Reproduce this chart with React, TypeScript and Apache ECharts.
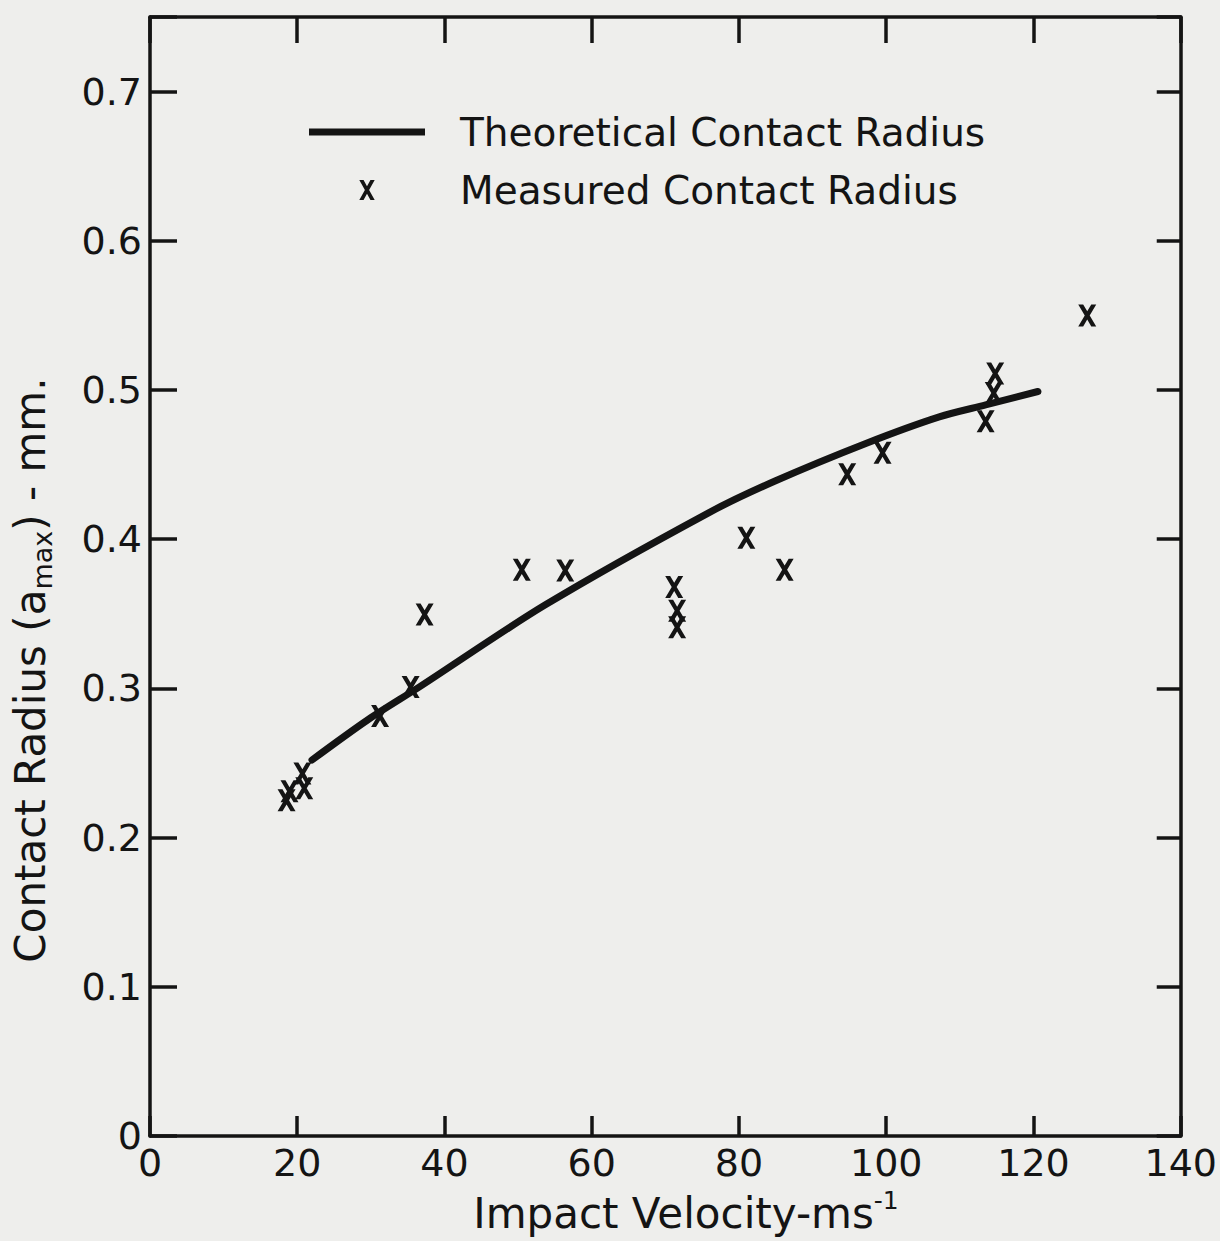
import React, { useEffect, useRef } from "react";
import * as echarts from "echarts";

// Theoretical curve
const theoryX = [22.0, 29.6, 36.6, 53.7, 76.0, 84.9, 97.4, 107.2, 113.5, 120.6];
const theoryY = [0.252, 0.279, 0.301, 0.356, 0.418, 0.439, 0.4645, 0.482, 0.49, 0.499];

// Measured points
const measX = [18.55, 18.95, 20.7, 20.95, 31.25, 35.4, 37.3, 50.5, 56.4, 71.2, 71.6, 71.6, 81.0, 86.2, 94.7, 99.5, 113.5, 114.6, 114.8, 127.3];
const measY = [0.225, 0.231, 0.243, 0.233, 0.2815, 0.301, 0.3495, 0.3795, 0.379, 0.368, 0.352, 0.341, 0.401, 0.3795, 0.4436, 0.458, 0.479, 0.498, 0.511, 0.55];

const seriesNames = ["Theoretical Contact Radius", "Measured Contact Radius"];
const xTitle = "Impact Velocity-ms";
const xTitleSup = "-1";
const yTitleA = "Contact Radius (a";
const yTitleSub = "max";
const yTitleB = ") - mm.";

const INK = "#141414";
const BG = "#eeeeec";
const FONT = "DejaVu Sans";
const X_PATH =
  "path://M0,0L5.5,0L10,8.07L14.5,0L20,0L12.75,13L20,26L14.5,26L10,17.93L5.5,26L0,26L7.25,13Z";
const LINE_ICON = "path://M0,0L116,0L116,7L0,7Z";

export default function App() {
  const ref = useRef<HTMLDivElement>(null);
  useEffect(() => {
    if (!ref.current) return;
    const chart = echarts.init(ref.current, undefined, { renderer: "svg" });
    const axisLine = { show: true, onZero: false, lineStyle: { color: INK, width: 3.5 } };
    const tickStyle = { color: INK, width: 3.5 };
    const yFmt = (v: number) => (v > 0.72 ? "" : v === 0 ? "0" : v.toFixed(1));
    chart.setOption({
      animation: false,
      backgroundColor: BG,
      grid: { left: 150, right: 26, top: 17, bottom: 105, containLabel: false },
      legend: {
        left: 304,
        top: 106,
        orient: "vertical",
        itemWidth: 116,
        itemHeight: 20,
        itemGap: 16,
        selectedMode: false,
        symbolKeepAspect: true,
        textStyle: { fontFamily: FONT, fontSize: 39, color: INK, lineHeight: 42, padding: [0, 0, 0, 30] },
        data: [
          { name: seriesNames[0], icon: LINE_ICON, itemStyle: { color: INK, opacity: 1 } },
          { name: seriesNames[1], icon: X_PATH, itemStyle: { color: INK, opacity: 1 } },
        ],
      },
      xAxis: [
        {
          type: "value",
          min: 0,
          max: 140,
          interval: 20,
          position: "bottom",
          axisLine,
          axisTick: { show: true, inside: true, length: 20, lineStyle: tickStyle },
          axisLabel: { color: INK, fontSize: 38, fontFamily: FONT, margin: 8 },
          splitLine: { show: false },
        },
        {
          type: "value",
          min: 0,
          max: 140,
          interval: 20,
          position: "top",
          axisLine,
          axisTick: { show: true, inside: true, length: 26, lineStyle: tickStyle },
          axisLabel: { show: false },
          splitLine: { show: false },
        },
      ],
      yAxis: [
        {
          type: "value",
          min: 0,
          max: 0.75,
          interval: 0.1,
          position: "left",
          axisLine,
          axisTick: { show: true, inside: true, length: 27, lineStyle: tickStyle },
          axisLabel: { color: INK, fontSize: 38, fontFamily: FONT, margin: 8, formatter: yFmt },
          splitLine: { show: false },
        },
        {
          type: "value",
          min: 0,
          max: 0.75,
          interval: 0.1,
          position: "right",
          axisLine,
          axisTick: { show: true, inside: true, length: 24, lineStyle: tickStyle },
          axisLabel: { show: false },
          splitLine: { show: false },
        },
      ],
      series: [
        {
          type: "line",
          name: seriesNames[0],
          data: theoryX.map((x, i) => [x, theoryY[i]]),
          smooth: 0.3,
          symbol: "none",
          showSymbol: false,
          lineStyle: { color: INK, width: 7, cap: "round" },
          itemStyle: { color: INK },
          z: 3,
        },
        {
          type: "scatter",
          name: seriesNames[1],
          data: measX.map((x, i) => [x, measY[i]]),
          symbol: X_PATH,
          symbolSize: [18, 22],
          itemStyle: { color: INK, opacity: 1 },
          z: 4,
        },
      ],
      graphic: [
        {
          type: "text",
          x: 686,
          y: 1213,
          style: {
            text: `{a|${xTitle}}{s|${xTitleSup}}`,
            align: "center",
            verticalAlign: "middle",
            textAlign: "center",
            textVerticalAlign: "middle",
            fill: INK,
            rich: {
              a: { fontFamily: FONT, fontSize: 42, lineHeight: 50, fill: INK, color: INK, verticalAlign: "middle" },
              s: { fontFamily: FONT, fontSize: 25, lineHeight: 25, fill: INK, color: INK, verticalAlign: "top" },
            },
          },
        },
        {
          type: "text",
          x: 30,
          y: 670,
          rotation: Math.PI / 2,
          style: {
            text: `{a|${yTitleA}}{b|${yTitleSub}}{a|${yTitleB}}`,
            align: "center",
            verticalAlign: "middle",
            textAlign: "center",
            textVerticalAlign: "middle",
            fill: INK,
            rich: {
              a: { fontFamily: FONT, fontSize: 42, lineHeight: 52, fill: INK, color: INK, verticalAlign: "middle" },
              b: { fontFamily: FONT, fontSize: 27, lineHeight: 27, fill: INK, color: INK, verticalAlign: "bottom" },
            },
          },
        },
      ],
    });
    return () => chart.dispose();
  }, []);
  return (
    <div
      ref={ref}
      style={{ position: "fixed", left: 0, top: 0, width: 1220, height: 1241, background: BG }}
    />
  );
}
